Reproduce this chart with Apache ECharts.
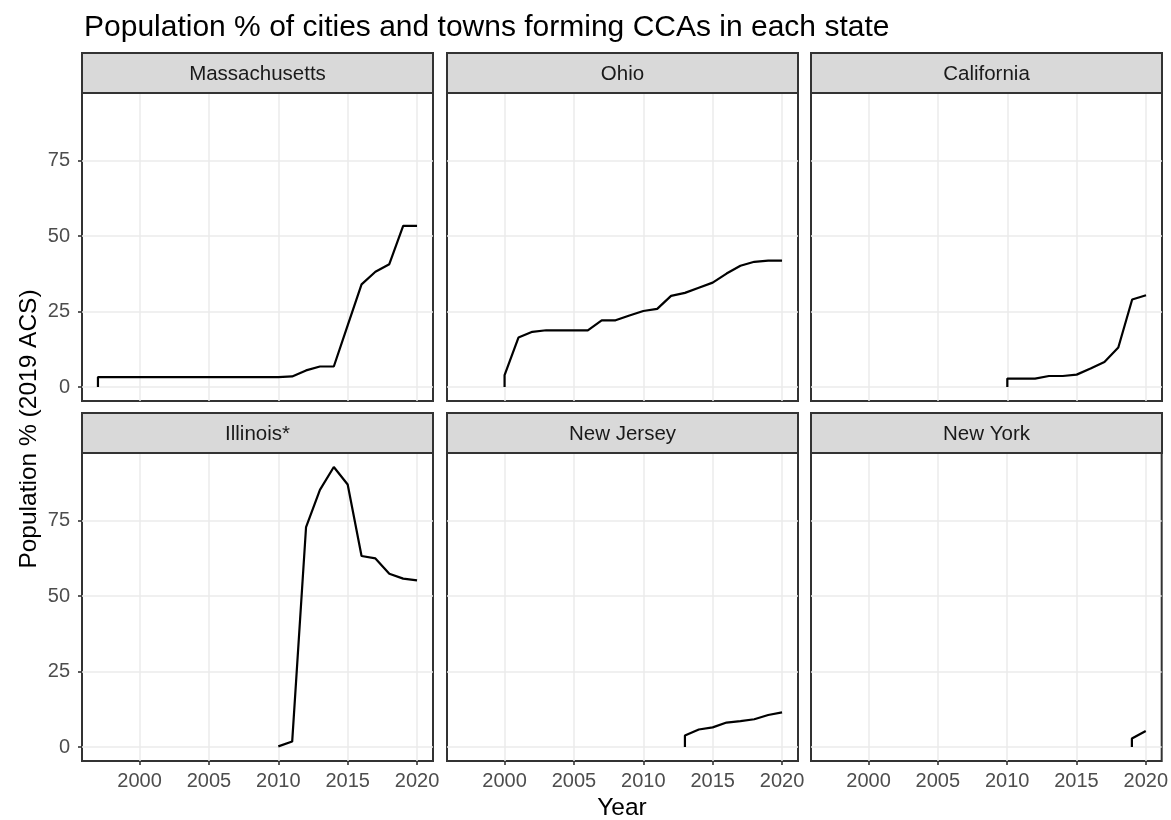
<!DOCTYPE html>
<html><head><meta charset="utf-8">
<script src="https://cdn.jsdelivr.net/npm/echarts@6/dist/echarts.min.js"></script>
<style>html,body{margin:0;padding:0;background:#fff}#c{width:1171px;height:820px}</style>
</head><body><div id="c"></div>
<script>
// ---- data ----
const titleText = 'Population % of cities and towns forming CCAs in each state';
const xTitle = 'Year';
const yTitle = 'Population % (2019 ACS)';
const states = ['Massachusetts', 'Ohio', 'California', 'Illinois*', 'New Jersey', 'New York'];
const xTicks = [2000, 2005, 2010, 2015, 2020];
const yTicks = [0, 25, 50, 75];

const massachusettsYears = [1997, 1997, 1998, 1999, 2000, 2001, 2002, 2003, 2004, 2005, 2006, 2007, 2008, 2009, 2010, 2011, 2012, 2013, 2014, 2015, 2016, 2017, 2018, 2019, 2020];
const massachusettsValues = [0, 3.3, 3.3, 3.3, 3.3, 3.3, 3.3, 3.3, 3.3, 3.3, 3.3, 3.3, 3.3, 3.3, 3.3, 3.5, 5.5, 6.8, 6.8, 20.4, 34.0, 38.2, 40.7, 53.4, 53.4];

const ohioYears = [2000, 2000, 2001, 2002, 2003, 2004, 2005, 2006, 2007, 2008, 2009, 2010, 2011, 2012, 2013, 2014, 2015, 2016, 2017, 2018, 2019, 2020];
const ohioValues = [0, 3.9, 16.4, 18.3, 18.8, 18.8, 18.8, 18.8, 22.1, 22.1, 23.7, 25.2, 25.9, 30.2, 31.2, 32.9, 34.6, 37.6, 40.2, 41.5, 41.9, 41.9];

const californiaYears = [2010, 2010, 2011, 2012, 2013, 2014, 2015, 2016, 2017, 2018, 2019, 2020];
const californiaValues = [0, 2.8, 2.8, 2.8, 3.65, 3.65, 4.1, 6.1, 8.3, 13.1, 29.0, 30.4];

const illinoisYears = [2010, 2011, 2012, 2013, 2014, 2015, 2016, 2017, 2018, 2019, 2020];
const illinoisValues = [0.2, 1.8, 72.9, 85.2, 92.8, 87.0, 63.3, 62.5, 57.4, 55.8, 55.2];

const newJerseyYears = [2013, 2013, 2014, 2015, 2016, 2017, 2018, 2019, 2020];
const newJerseyValues = [0, 3.8, 5.8, 6.5, 8.1, 8.6, 9.2, 10.6, 11.5];

const newYorkYears = [2019, 2019, 2020];
const newYorkValues = [0, 2.8, 5.3];

const seriesYears = [massachusettsYears, ohioYears, californiaYears, illinoisYears, newJerseyYears, newYorkYears];
const seriesValues = [massachusettsValues, ohioValues, californiaValues, illinoisValues, newJerseyValues, newYorkValues];

// ---- layout ----
const FONT = '"Liberation Sans", Arial, Helvetica, sans-serif';
const colLeft = [82, 447, 811];
const panelW = 351;
const stripTop = [53, 413];
const stripH = 40;
const panelH = 308;
const xMin = 1995.85, xMax = 2021.15;
const yMin = -4.64, yMax = 97.44;

const grids = [], xAxes = [], yAxes = [], series = [], graphics = [];
states.forEach((name, i) => {
  const r = Math.floor(i / 3), c = i % 3;
  const left = colLeft[c];
  const top = stripTop[r] + stripH;
  grids.push({left: left, top: top, width: panelW, height: panelH, show: true,
    backgroundColor: '#fff', borderColor: '#333333', borderWidth: 2, containLabel: false});
  xAxes.push({type: 'value', gridIndex: i, min: xMin, max: xMax,
    axisLine: {show: false, onZero: false},
    axisTick: {show: r === 1, customValues: xTicks, length: 4, lineStyle: {color: '#333333', width: 1.6}},
    axisLabel: {show: r === 1, customValues: xTicks, color: '#4D4D4D', fontSize: 20, fontFamily: FONT, margin: 10,
      formatter: v => String(v)},
    splitLine: {show: true, lineStyle: {color: '#EBEBEB', width: 1.5}}});
  yAxes.push({type: 'value', gridIndex: i, min: yMin, max: yMax,
    axisLine: {show: false, onZero: false},
    axisTick: {show: c === 0, customValues: yTicks, length: 4, lineStyle: {color: '#333333', width: 1.6}},
    axisLabel: {show: c === 0, customValues: yTicks, color: '#4D4D4D', fontSize: 20, fontFamily: FONT, margin: 12,
      formatter: v => String(v)},
    splitLine: {show: true, lineStyle: {color: '#EBEBEB', width: 1.5}}});
  series.push({type: 'line', xAxisIndex: i, yAxisIndex: i, symbol: 'none', showSymbol: false,
    lineStyle: {color: '#000', width: 2.2}, itemStyle: {color: '#000'},
    data: seriesYears[i].map((y, k) => [y, seriesValues[i][k]]), z: 5});
  graphics.push({type: 'rect', shape: {x: left, y: stripTop[r], width: panelW, height: stripH},
    style: {fill: '#D9D9D9', stroke: '#333333', lineWidth: 2}, z: 10});
  graphics.push({type: 'text', x: left + panelW / 2, y: stripTop[r] + stripH / 2 + 1,
    style: {text: name, textAlign: 'center', textVerticalAlign: 'middle', fontSize: 20.5, fontFamily: FONT, fill: '#1A1A1A'}, z: 11});
});

graphics.push({type: 'text', x: 622, y: 808,
  style: {text: xTitle, textAlign: 'center', textVerticalAlign: 'middle', fontSize: 24.5, fontFamily: FONT, fill: '#000'}});
graphics.push({type: 'text', x: 29, y: 429, rotation: Math.PI / 2,
  style: {text: yTitle, textAlign: 'center', textVerticalAlign: 'middle', fontSize: 24.5, fontFamily: FONT, fill: '#000'}});

const chart = echarts.init(document.getElementById('c'), null, {renderer: 'canvas'});
chart.setOption({
  animation: false,
  backgroundColor: '#fff',
  title: {text: titleText, left: 79, top: 8, textStyle: {fontSize: 30, fontWeight: 'normal', color: '#000', fontFamily: FONT}},
  grid: grids, xAxis: xAxes, yAxis: yAxes, series: series, graphic: graphics
});
</script></body></html>
